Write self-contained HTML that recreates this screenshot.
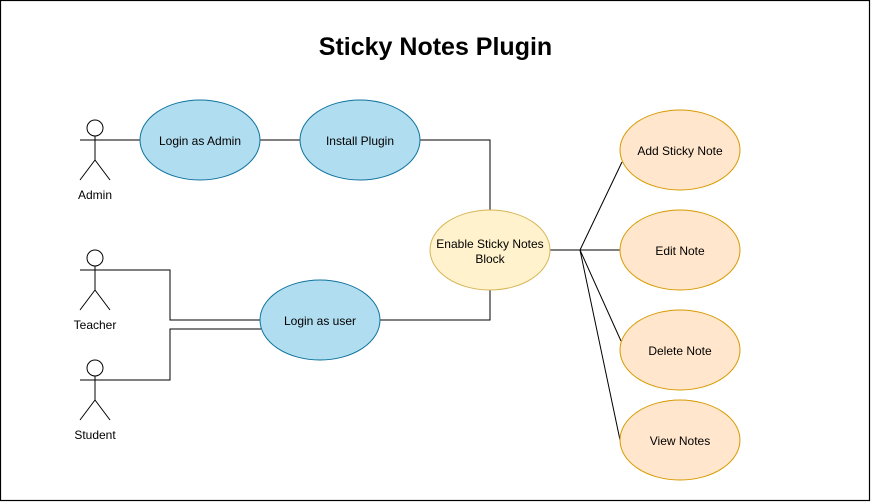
<!DOCTYPE html>
<html><head><meta charset="utf-8"><style>
html,body{margin:0;padding:0;background:#fff;}
svg{display:block;font-family:"Liberation Sans",Arial,sans-serif;}
</style></head><body>
<svg width="871" height="502" viewBox="0 0 871 502" xmlns="http://www.w3.org/2000/svg">
<rect x="0.5" y="0.5" width="869" height="500" fill="#fff" stroke="#000" stroke-width="1.2"/>
<text x="435.5" y="55" text-anchor="middle" font-size="25" font-weight="bold">Sticky Notes Plugin</text>
<g fill="none" stroke="#000" stroke-width="1">
<path d="M110 140H140M260 140H300M420 140H490V210M490 290V320H380"/>
<path d="M110 270H170V320H260M110 380H170V329H261"/>
<path d="M550 250H580M580 250L622 162M580 250H620M580 250L621 341M580 250L620 440"/>
</g>
<g fill="#fff" stroke="#000" stroke-width="1">
<g id="a"><circle cx="95" cy="128" r="8"/><path d="M95 136V160M80 140H110M95 160L80 180M95 160L110 180" fill="none"/></g>
<use href="#a" y="130"/><use href="#a" y="240"/>
</g>
<g font-size="12" text-anchor="middle" fill="#000">
<text x="95" y="199">Admin</text>
<text x="95" y="329">Teacher</text>
<text x="95" y="439">Student</text>
</g>
<g stroke="#10739e" stroke-width="1" fill="#b1ddf0">
<ellipse cx="200" cy="140" rx="60" ry="40"/>
<ellipse cx="360" cy="140" rx="60" ry="40"/>
<ellipse cx="320" cy="320" rx="60" ry="40"/>
</g>
<ellipse cx="490" cy="250" rx="60" ry="40" fill="#fff2cc" stroke="#d6b656"/>
<g stroke="#d79b00" fill="#ffe6cc">
<ellipse cx="680" cy="150" rx="60" ry="40"/>
<ellipse cx="680" cy="250" rx="60" ry="40"/>
<ellipse cx="680" cy="350" rx="60" ry="40"/>
<ellipse cx="680" cy="440" rx="60" ry="40"/>
</g>
<g font-size="12" text-anchor="middle" fill="#000">
<text x="200" y="145">Login as Admin</text>
<text x="360" y="145">Install Plugin</text>
<text x="320" y="325">Login as user</text>
<text x="490" y="248">Enable Sticky Notes</text>
<text x="490" y="263">Block</text>
<text x="680" y="155">Add Sticky Note</text>
<text x="680" y="255">Edit Note</text>
<text x="680" y="355">Delete Note</text>
<text x="680" y="445">View Notes</text>
</g>
</svg>
</body></html>
